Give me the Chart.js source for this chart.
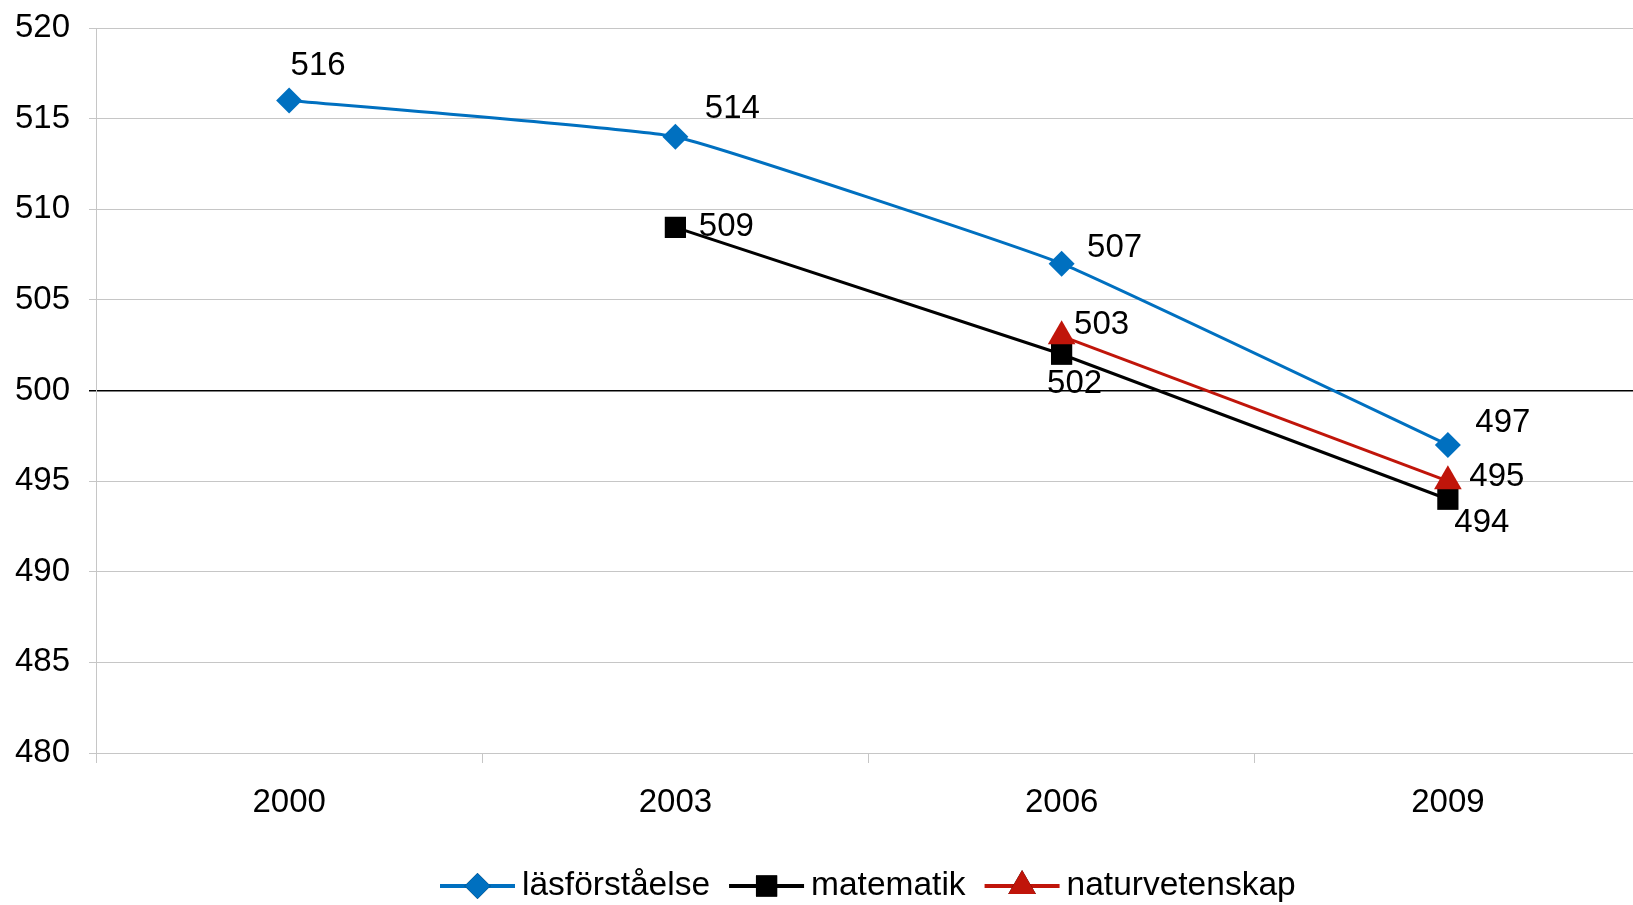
<!DOCTYPE html>
<html>
<head>
<meta charset="utf-8">
<script src="https://cdn.jsdelivr.net/npm/chart.js@4/dist/chart.umd.min.js"></script>
<style>
  html, body { margin: 0; padding: 0; background: #fff; overflow: hidden; }
  canvas { display: block; }
</style>
</head>
<body>
<canvas id="pisa" width="1657" height="905"></canvas>
<script>
// data
const years = ['2000', '2003', '2006', '2009']
const lasforstaelse = [516, 514, 507, 497]
const matematik = [null, 509, 502, 494]
const naturvetenskap = [null, null, 503, 495]
const seriesNames = ['läsförståelse', 'matematik', 'naturvetenskap']

// colours
const colours = ['#0070c0', '#000000', '#c0150a']
const font = 'Liberation Sans, Arial, sans-serif'

// where each value label sits relative to its point (dx, dy)
const labelOffsets = [
  [[29, -35], [57, -28], [53, -16], [55, -22]],
  [null, [51, 0], [13, 30], [34, 24]],
  [null, null, [40, -11], [49, -4]]
]

// value labels next to the points
const valueLabels = {
  id: 'valueLabels',
  afterDatasetsDraw (chart) {
    const ctx = chart.ctx
    ctx.save()
    ctx.font = '33px ' + font
    ctx.fillStyle = '#000'
    ctx.textAlign = 'center'
    ctx.textBaseline = 'middle'
    chart.data.datasets.forEach((ds, i) => {
      chart.getDatasetMeta(i).data.forEach((pt, j) => {
        const v = ds.data[j]
        if (v === null) return
        const off = labelOffsets[i][j]
        ctx.fillText(String(v), pt.x + off[0], pt.y + off[1])
      })
    })
    ctx.restore()
  }
}

// legend with line + marker, like the spreadsheet one
const lineLegend = {
  id: 'lineLegend',
  afterDraw (chart) {
    const ctx = chart.ctx
    const y = 886
    let x = 440
    ctx.save()
    ctx.font = '33.5px ' + font
    ctx.textBaseline = 'middle'
    chart.data.datasets.forEach((ds, i) => {
      ctx.strokeStyle = ds.borderColor
      ctx.lineWidth = 4
      ctx.beginPath()
      ctx.moveTo(x, y)
      ctx.lineTo(x + 75, y)
      ctx.stroke()
      Chart.helpers.drawPoint(ctx, {
        pointStyle: ds.pointStyle,
        radius: ds.pointRadius,
        rotation: 0,
        borderWidth: 0
      }, x + 37.5, y)
      ctx.fillStyle = ds.borderColor
      ctx.fill()
      ctx.fillStyle = '#000'
      ctx.fillText(seriesNames[i], x + 82, y)
      x += 82 + ctx.measureText(seriesNames[i]).width + 19
    })
    ctx.restore()
  }
}

const canvas = document.getElementById('pisa')
const chart = new Chart(canvas, {
  type: 'line',
  data: {
    labels: years,
    datasets: [
      { data: lasforstaelse, borderColor: colours[0], backgroundColor: colours[0], pointStyle: 'rectRot', pointRadius: 13, tension: 0.1, order: 2 },
      { data: matematik, borderColor: colours[1], backgroundColor: colours[1], pointStyle: 'rect', pointRadius: 15, tension: 0, order: 1 },
      { data: naturvetenskap, borderColor: colours[2], backgroundColor: colours[2], pointStyle: 'triangle', pointRadius: 16, tension: 0, order: 0 }
    ]
  },
  options: {
    responsive: false,
    animation: false,
    devicePixelRatio: 1,
    datasets: { line: { borderWidth: 3, pointBorderWidth: 0 } },
    layout: { padding: { top: 28, right: 10, bottom: 72, left: 0 } },
    plugins: { legend: { display: false }, tooltip: { enabled: false } },
    scales: {
      x: {
        offset: true,
        grid: { offset: true, drawOnChartArea: false, tickLength: 10, color: '#c6c6c6' },
        border: { color: '#c6c6c6' },
        ticks: { font: { family: font, size: 33 }, color: '#000', padding: 20 },
        afterFit: (scale) => {
          scale.height = 80
          scale.paddingLeft = 0
          scale.paddingRight = 0
        }
      },
      y: {
        min: 480,
        max: 520,
        grid: {
          tickLength: 7,
          color: (c) => c.tick && c.tick.value === 500 ? '#000' : '#c6c6c6',
          lineWidth: (c) => c.tick && c.tick.value === 500 ? 1.5 : 1
        },
        border: { color: '#c6c6c6' },
        ticks: { stepSize: 5, font: { family: font, size: 33 }, color: '#000', padding: 19 },
        afterFit: (scale) => {
          scale.width = 96
          scale.paddingTop = 0
          scale.paddingBottom = 0
        }
      }
    }
  },
  plugins: [valueLabels, lineLegend]
})
</script>
</body>
</html>
